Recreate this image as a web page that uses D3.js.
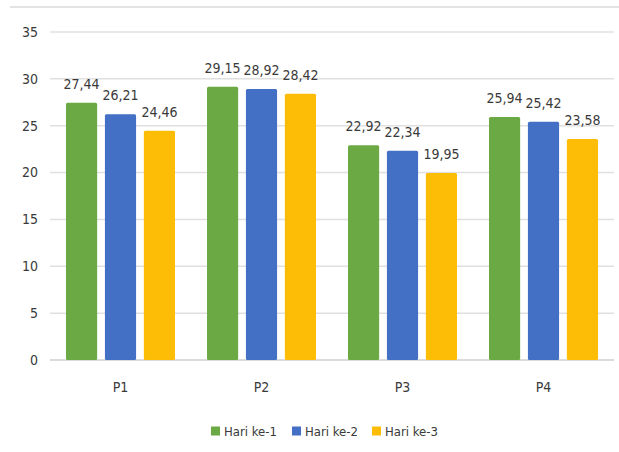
<!DOCTYPE html>
<html>
<head>
<meta charset="utf-8">
<script src="https://cdn.jsdelivr.net/npm/d3@7"></script>
<style>
  body { margin: 0; background: #fff; }
  svg text { font-family: "DejaVu Sans Condensed", "Liberation Sans Narrow", "Open Sans", sans-serif; fill: #3a3a3a; }
</style>
</head>
<body>
<div id="chart"></div>
<script>
var categories = ["P1", "P2", "P3", "P4"];
var seriesNames = ["Hari ke-1", "Hari ke-2", "Hari ke-3"];
var hari1 = [27.44, 29.15, 22.92, 25.94];
var hari2 = [26.21, 28.92, 22.34, 25.42];
var hari3 = [24.46, 28.42, 19.95, 23.58];
var yTicks = [0, 5, 10, 15, 20, 25, 30, 35];
var colors = ["#6aa944", "#4370c5", "#fdbd07"];

var W = 619, H = 452;
var margin = { left: 50, right: 5, top: 32, bottom: 92 };

var svg = d3.select("#chart").append("svg")
    .attr("width", W).attr("height", H);

// faint border line along top
svg.append("line")
    .attr("x1", 10).attr("x2", W).attr("y1", 7).attr("y2", 7)
    .attr("stroke", "#e3e3e3").attr("stroke-width", 2);

var x0 = d3.scaleBand().domain(categories)
    .range([margin.left, W - margin.right]).paddingInner(0).paddingOuter(0);
var x1 = d3.scaleBand().domain(seriesNames)
    .range([16, x0.bandwidth() - 16]).paddingInner(0.2);
var y = d3.scaleLinear().domain([0, 35]).range([360, 32]);

// gridlines
svg.append("g").selectAll("line").data(yTicks).enter().append("line")
    .attr("x1", margin.left).attr("x2", W - margin.right)
    .attr("y1", function (d) { return y(d); })
    .attr("y2", function (d) { return y(d); })
    .attr("stroke", function (d) { return d === 0 ? "#cfcfcf" : "#e0e0e0"; })
    .attr("stroke-width", 1.5);

// y labels
svg.append("g").selectAll("text").data(yTicks).enter().append("text")
    .attr("x", 38).attr("y", function (d) { return y(d); })
    .attr("dy", "0.35em").attr("text-anchor", "end")
    .attr("font-size", 14)
    .text(function (d) { return d; });

var rows = categories.map(function (c, i) {
    return { cat: c, vals: [hari1[i], hari2[i], hari3[i]] };
});

var groups = svg.append("g").selectAll("g").data(rows).enter().append("g")
    .attr("transform", function (d) { return "translate(" + x0(d.cat) + ",0)"; });

var cells = function (d) {
    return d.vals.map(function (v, j) { return { name: seriesNames[j], v: v, j: j }; });
};

groups.selectAll("rect").data(cells).enter().append("rect")
    .attr("x", function (d) { return x1(d.name); })
    .attr("width", x1.bandwidth())
    .attr("y", function (d) { return y(d.v); })
    .attr("height", function (d) { return y(0) - y(d.v); })
    .attr("rx", 1.5)
    .attr("fill", function (d) { return colors[d.j]; });

groups.selectAll("text.val").data(cells).enter().append("text")
    .attr("class", "val")
    .attr("x", function (d) { return x1(d.name) + x1.bandwidth() / 2; })
    .attr("y", function (d) { return y(d.v) - 14; })
    .attr("text-anchor", "middle")
    .attr("font-size", 14)
    .text(function (d) { return d.v.toFixed(2).replace(".", ","); });

// category labels
svg.append("g").selectAll("text").data(categories).enter().append("text")
    .attr("x", function (d) { return x0(d) + x0.bandwidth() / 2; })
    .attr("y", 387).attr("dy", "0.35em")
    .attr("text-anchor", "middle").attr("font-size", 14)
    .text(function (d) { return d; });

// legend
var legendX = [211, 292, 372];
var legend = svg.append("g").selectAll("g").data(seriesNames).enter().append("g")
    .attr("transform", function (d, i) { return "translate(" + legendX[i] + ",431)"; });
legend.append("rect")
    .attr("x", 0).attr("y", -4.5).attr("width", 9).attr("height", 9)
    .attr("fill", function (d, i) { return colors[i]; });
legend.append("text")
    .attr("x", 13).attr("dy", "0.35em").attr("font-size", 13)
    .text(function (d) { return d; });
</script>
</body>
</html>
